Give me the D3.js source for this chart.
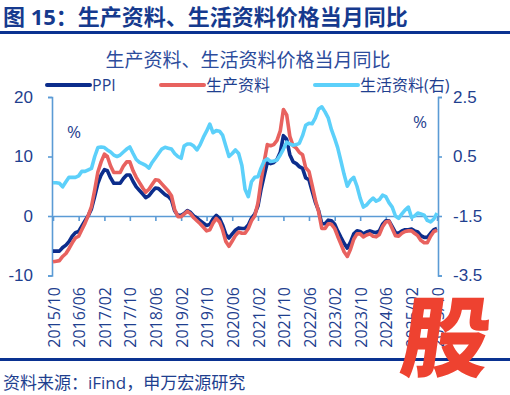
<!DOCTYPE html>
<html>
<head>
<meta charset="utf-8">
<script src="https://cdn.jsdelivr.net/npm/d3@7"></script>
<style>
  body { margin: 0; background: #fff; }
  svg { display: block; font-family: "Open Sans", "Noto Sans CJK SC", sans-serif; }
</style>
</head>
<body>
<div id="chart"></div>
<script>
// monthly values, 2015/10 .. 2025/10
const ppi = [
  -5.9, -5.9, -5.9,
  -5.3, -4.9, -4.3, -3.4, -2.8, -2.6, -1.7, -0.8, 0.1, 1.2, 3.3, 5.5,
  6.9, 7.8, 7.6, 6.4, 5.5, 5.5, 5.5, 6.3, 6.9, 6.9, 5.8, 4.9,
  4.3, 3.7, 3.1, 3.4, 4.1, 4.7, 4.6, 4.1, 3.6, 3.3, 2.7, 0.9,
  0.1, 0.1, 0.4, 0.9, 0.6, 0.0, -0.3, -0.8, -1.2, -1.6, -1.4, -0.5,
  0.1, -0.4, -1.5, -3.1, -3.7, -3.0, -2.4, -2.0, -2.1, -2.1, -1.5, -0.4,
  0.3, 1.7, 4.4, 6.8, 9.0, 8.8, 9.0, 9.5, 10.7, 13.5, 12.9, 10.3,
  9.1, 8.8, 8.3, 8.0, 6.4, 6.1, 4.2, 2.3, 0.9, -1.3, -1.3, -0.7,
  -0.8, -1.4, -2.5, -3.6, -4.6, -5.4, -4.4, -3.0, -2.5, -2.6, -3.0, -2.7,
  -2.5, -2.7, -2.8, -2.5, -1.4, -0.8, -0.8, -1.8, -2.8, -2.9, -2.5, -2.3,
  -2.3, -2.2, -2.5, -2.7, -3.3, -3.6, -3.6, -2.9, -2.3, -2.1
];

const producer = [
  -7.7, -7.6, -7.5,
  -6.8, -6.3, -5.5, -4.5, -3.7, -3.4, -2.3, -1.2, 0.1, 1.6, 4.4, 7.4,
  9.1, 10.4, 10.0, 8.4, 7.3, 7.3, 7.3, 8.4, 9.1, 9.1, 7.6, 6.5,
  5.6, 4.7, 4.0, 4.5, 5.3, 6.1, 6.0, 5.4, 4.8, 4.2, 3.4, 1.1,
  -0.1, -0.1, 0.3, 0.8, 0.4, -0.3, -0.8, -1.3, -1.9, -2.5, -2.3, -1.2,
  -0.4, -1.0, -2.3, -4.3, -5.1, -4.2, -3.3, -2.7, -2.9, -2.9, -2.1, -0.8,
  0.0, 2.2, 5.7, 9.1, 12.0, 11.8, 12.0, 12.7, 14.3, 17.9, 17.0, 13.4,
  11.8, 11.4, 10.7, 10.3, 8.1, 7.5, 5.2, 2.7, 0.7, -2.1, -2.1, -1.3,
  -1.4, -2.1, -3.4, -4.7, -6.0, -6.8, -5.6, -3.9, -3.0, -3.0, -3.5, -3.2,
  -3.0, -3.4, -3.5, -3.1, -1.8, -1.0, -0.9, -2.1, -3.3, -3.4, -2.9, -2.6,
  -2.5, -2.5, -2.9, -3.3, -4.1, -4.5, -4.5, -3.4, -2.6, -2.4
];

// right axis
const consumer = [
  -0.38, -0.38, -0.4,
  -0.52, -0.35, -0.2, -0.2, -0.2, -0.15, 0.0, 0.0, 0.05, 0.1, 0.5, 0.8,
  0.82, 0.8, 0.72, 0.65, 0.55, 0.5, 0.55, 0.65, 0.75, 0.82, 0.6, 0.4,
  0.3, 0.25, 0.2, 0.11, 0.3, 0.45, 0.6, 0.75, 0.81, 0.78, 0.75, 0.6,
  0.5, 0.44, 0.85, 0.92, 0.92, 0.85, 0.72, 0.9, 1.15, 1.35, 1.59, 1.3,
  1.37, 1.35, 1.22, 0.85, 0.5, 0.6, 0.72, 0.6, 0.2, -0.6, -0.85, -0.35,
  -0.2, -0.18, 0.1, 0.35, 0.42, 0.33, 0.35, 0.38, 0.55, 0.75, 0.98, 0.92,
  0.88, 0.9, 0.94, 1.2, 1.55, 1.62, 1.6, 1.8, 2.1, 2.17, 2.0, 1.8,
  1.4, 1.1, 0.8, 0.35, -0.1, -0.5, -0.3, -0.2, -0.5, -0.9, -1.2, -1.13,
  -1.0, -0.9, -1.0, -0.95, -0.8, -0.85, -1.05, -1.2, -1.5, -1.58, -1.43, -1.3,
  -1.2, -1.55, -1.5, -1.4, -1.43, -1.47, -1.65, -1.7, -1.6, -1.4
];

const tickLabels = ['2015/10', '2016/06', '2017/02', '2017/10', '2018/06', '2019/02',
  '2019/10', '2020/06', '2021/02', '2021/10', '2022/06', '2023/02', '2023/10',
  '2024/06', '2025/02', '2025/10'];
const leftTicks = [-10, 0, 10, 20];
const rightTicks = [-3.5, -1.5, 0.5, 2.5];

const width = 510;
const height = 395;
const navy = '#0c2d8c';
const textBlue = '#1f3f8f';
const axisBlue = '#5b9bd5';

const parseMonth = d3.timeParse('%Y/%m');
const months = d3.timeMonth.range(parseMonth('2015/10'), d3.timeMonth.offset(parseMonth('2025/10'), 1));

const svg = d3.select('#chart').append('svg')
  .attr('width', width)
  .attr('height', height);

// header
svg.append('text')
  .attr('x', 3).attr('y', 25)
  .attr('font-size', 22).attr('font-weight', 'bold')
  .attr('fill', '#163a8e')
  .text('图 15：生产资料、生活资料价格当月同比');

svg.append('rect').attr('x', 0).attr('y', 31).attr('width', width).attr('height', 3).attr('fill', '#0a3291');

svg.append('text')
  .attr('x', 248).attr('y', 67)
  .attr('text-anchor', 'middle')
  .attr('font-size', 19)
  .attr('fill', '#2c4c9c')
  .text('生产资料、生活资料价格当月同比');

// scales
const x = d3.scaleTime().domain([months[0], months[months.length - 1]]).range([53, 437]);
const yL = d3.scaleLinear().domain([-10, 20]).range([275.5, 97]);
const yR = d3.scaleLinear().domain([-3.5, 2.5]).range([275.5, 97]);

// x axis on zero line
const xAxis = svg.append('g')
  .attr('transform', `translate(0,${yL(0)})`)
  .call(d3.axisBottom(x).tickValues(tickLabels.map(parseMonth)).tickSize(5).tickSizeOuter(0).tickFormat(''));
xAxis.selectAll('path, line').attr('stroke', axisBlue).attr('stroke-width', 1.6);

svg.append('g')
  .selectAll('text')
  .data(tickLabels)
  .enter()
  .append('text')
  .attr('transform', (d) => `translate(${x(parseMonth(d)) + 1},287) rotate(-90)`)
  .attr('text-anchor', 'end')
  .attr('dy', '0.35em')
  .attr('font-size', 16)
  .attr('fill', textBlue)
  .text((d) => d);

const leftAxis = svg.append('g')
  .attr('transform', 'translate(52,0)')
  .call(d3.axisLeft(yL).tickValues(leftTicks).tickSize(4).tickPadding(15).tickFormat((d) => String(d)));
const rightAxis = svg.append('g')
  .attr('transform', 'translate(438,0)')
  .call(d3.axisRight(yR).tickValues(rightTicks).tickSize(4).tickPadding(11).tickFormat((d) => d.toFixed(1)));
[leftAxis, rightAxis].forEach((a) => {
  a.selectAll('path, line').attr('stroke', axisBlue).attr('stroke-width', 1.6);
  a.selectAll('text').attr('font-size', 17).attr('fill', textBlue).attr('font-family', null);
});

svg.append('text').attr('x', 74).attr('y', 138).attr('text-anchor', 'middle')
  .attr('font-size', 17).attr('fill', textBlue).text('%');
svg.append('text').attr('x', 420).attr('y', 128).attr('text-anchor', 'middle')
  .attr('font-size', 17).attr('fill', textBlue).text('%');

// lines
const series = [
  { name: 'PPI', values: ppi, y: yL, color: navy },
  { name: '生产资料', values: producer, y: yL, color: '#e8625f' },
  { name: '生活资料(右)', values: consumer, y: yR, color: '#5cd0fa' },
];

series.forEach((s) => {
  const line = d3.line()
    .x((d, i) => x(months[i]))
    .y((d) => s.y(d));
  svg.append('path')
    .attr('d', line(s.values))
    .attr('fill', 'none')
    .attr('stroke', s.color)
    .attr('stroke-width', 3.6)
    .attr('stroke-linejoin', 'round');
});

// legend
const legendX = [47, 161, 315];
const legend = svg.append('g')
  .selectAll('g')
  .data(series)
  .enter()
  .append('g')
  .attr('transform', (d, i) => `translate(${legendX[i]},85)`);
legend.append('line')
  .attr('x1', 0).attr('x2', 43)
  .attr('stroke', (d) => d.color)
  .attr('stroke-width', 4)
  .attr('stroke-linecap', 'round');
legend.append('text')
  .attr('x', 45).attr('dy', '0.36em')
  .attr('font-size', 16)
  .attr('fill', textBlue)
  .text((d) => d.name);

// footer
svg.append('rect').attr('x', 0).attr('y', 358).attr('width', width).attr('height', 3).attr('fill', '#0a3291');
svg.append('text')
  .attr('x', 3).attr('y', 389)
  .attr('font-size', 17)
  .attr('fill', textBlue)
  .text('资料来源：iFind，申万宏源研究');

svg.append('text')
  .attr('transform', 'translate(398,370) skewX(-8)')
  .attr('font-size', 88)
  .attr('font-weight', 900)
  .attr('fill', '#ee4230')
  .text('股');
</script>
</body>
</html>
